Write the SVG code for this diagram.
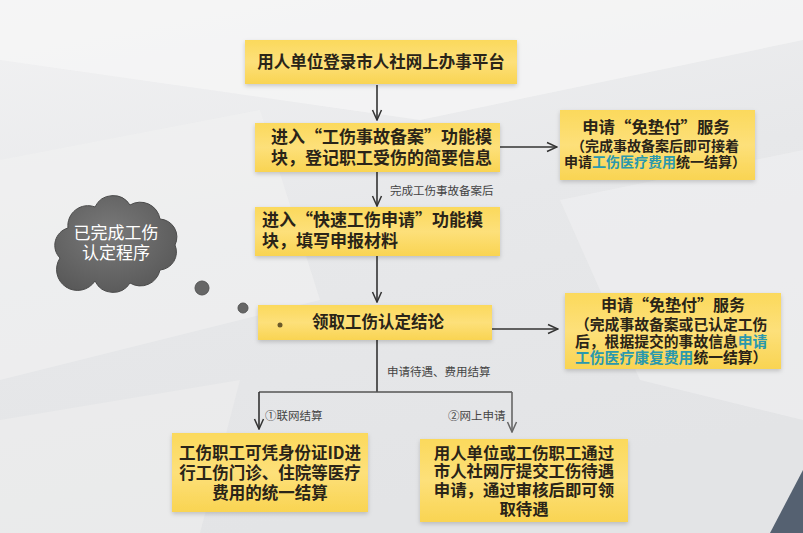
<svg xmlns="http://www.w3.org/2000/svg" width="803" height="533" viewBox="0 0 803 533">
  <defs>
    <linearGradient id="bg" x1="0" y1="0" x2="0.3" y2="1">
      <stop offset="0" stop-color="#f2f2f3"/>
      <stop offset="0.5" stop-color="#e7e8ea"/>
      <stop offset="1" stop-color="#e3e4e6"/>
    </linearGradient>
    <linearGradient id="yel" x1="0" y1="0" x2="0" y2="1">
      <stop offset="0" stop-color="#fbd95c"/>
      <stop offset="0.5" stop-color="#fde07a"/>
      <stop offset="1" stop-color="#f9d452"/>
    </linearGradient>
    <radialGradient id="cloudg" cx="0.45" cy="0.4" r="0.7">
      <stop offset="0" stop-color="#7a7a7a"/>
      <stop offset="1" stop-color="#565656"/>
    </radialGradient>
    <filter id="sh" x="-10%" y="-20%" width="120%" height="150%">
      <feDropShadow dx="0" dy="2" stdDeviation="2" flood-color="#000" flood-opacity="0.18"/>
    </filter>
    <marker id="ah" viewBox="0 0 12 12" refX="11" refY="6" markerWidth="12" markerHeight="12" markerUnits="userSpaceOnUse" orient="auto">
      <polyline points="1,1.5 11,6 1,10.5" fill="none" stroke="#333" stroke-width="1.5"/>
    </marker>
    <marker id="ah2" viewBox="0 0 12 12" refX="11" refY="6" markerWidth="12" markerHeight="12" markerUnits="userSpaceOnUse" orient="auto">
      <polyline points="1,1.5 11,6 1,10.5" fill="none" stroke="#666" stroke-width="1.5"/>
    </marker>
  </defs>
  <style>
    .box { fill: url(#yel); filter: url(#sh); }
    .t { font-family: "Noto Sans CJK SC", "Noto Sans", sans-serif; font-weight: bold; fill: #2a2418; }
    .m { text-anchor: middle; }
    .lbl { font-family: "Noto Sans CJK SC", "Noto Sans", sans-serif; font-size: 11.5px; fill: #444; }
    .teal { fill: #2a98ad; }
    .ln { fill: none; stroke: #333; stroke-width: 1.6; }
  </style>

  <!-- background -->
  <rect x="0" y="0" width="803" height="533" fill="url(#bg)"/>
  <polygon points="0,0 803,0 803,40 420,120 0,60" fill="#f6f6f7" opacity="0.7"/>
  <polygon points="0,160 260,110 320,300 0,380" fill="#f1f1f2" opacity="0.6"/>
  <polygon points="560,200 803,150 803,420 640,380" fill="#f0f0f1" opacity="0.6"/>
  <polygon points="0,420 240,380 200,533 0,533" fill="#eeeeef" opacity="0.6"/>
  <polygon points="770,533 803,470 803,533" fill="#3c4a5c" opacity="0.85"/>

  <!-- connectors -->
  <g id="connectors">
    <line class="ln" x1="377" y1="85" x2="377" y2="120" marker-end="url(#ah)"/>
    <line class="ln" x1="500" y1="147" x2="557" y2="147" marker-end="url(#ah)"/>
    <line class="ln" x1="377" y1="172" x2="377" y2="206" marker-end="url(#ah)"/>
    <line class="ln" x1="377" y1="256" x2="377" y2="302" marker-end="url(#ah)"/>
    <line class="ln" x1="492" y1="329" x2="558" y2="329" marker-end="url(#ah)"/>
    <polyline class="ln" points="377,340 377,392"/>
    <polyline class="ln" points="259,392 512,392" style="stroke:#555"/>
    <line class="ln" x1="259" y1="392" x2="259" y2="429" marker-end="url(#ah)"/>
    <line class="ln" x1="512" y1="392" x2="512" y2="432" style="stroke:#666" marker-end="url(#ah2)"/>
    <text class="lbl" x="390" y="195">完成工伤事故备案后</text>
    <text class="lbl" x="387" y="376">申请待遇、费用结算</text>
    <text class="lbl" x="265" y="420">①联网结算</text>
    <text class="lbl" x="448" y="420">②网上申请</text>
  </g>

  <g id="n1">
    <rect class="box" x="245" y="40" width="272" height="44"/>
    <text class="t m" x="381" y="68" font-size="16.5">用人单位登录市人社网上办事平台</text>
  </g>

  <g id="n2">
    <rect class="box" x="255" y="123" width="245" height="49"/>
    <text class="t" x="271" y="143" font-size="17">进入“工伤事故备案”功能模</text>
    <text class="t" x="271" y="164" font-size="17">块，登记职工受伤的简要信息</text>
  </g>

  <g id="n3">
    <rect class="box" x="560" y="110" width="195" height="70"/>
    <text class="t m" x="656" y="133" font-size="16.4">申请“免垫付”服务</text>
    <text class="t m" x="655" y="151" font-size="14">（完成事故备案后即可接着</text>
    <text class="t m" x="655" y="167" font-size="14">申请<tspan class="teal">工伤医疗费用</tspan>统一结算）</text>
  </g>

  <g id="n4">
    <rect class="box" x="255" y="207" width="245" height="49"/>
    <text class="t" x="262" y="226" font-size="17">进入“快速工伤申请”功能模</text>
    <text class="t" x="262" y="247" font-size="17">块，填写申报材料</text>
  </g>

  <g id="n5">
    <path d="M60,258 A18,18 0 0 1 68,228 A20,20 0 0 1 95,207 A20,20 0 0 1 130,205 A20,20 0 0 1 160,219 A18,18 0 0 1 175,245 A18,18 0 0 1 160,270 A20,20 0 0 1 130,283 A20,20 0 0 1 95,281 A20,20 0 0 1 60,258 Z" fill="url(#cloudg)" stroke="#4a4a4a" stroke-width="1"/>
    <text x="116" y="239" font-size="17" fill="#ffffff" text-anchor="middle" font-family="Noto Sans CJK SC, sans-serif">已完成工伤</text>
    <text x="116" y="259" font-size="17" fill="#ffffff" text-anchor="middle" font-family="Noto Sans CJK SC, sans-serif">认定程序</text>
    <circle cx="202" cy="288" r="7" fill="#666" stroke="#555" stroke-width="1"/>
    <circle cx="243" cy="308" r="5" fill="#666" stroke="#555" stroke-width="1"/>
  </g>

  <g id="n6">
    <rect class="box" x="258" y="305" width="234" height="35"/>
    <circle cx="280" cy="325" r="2.5" fill="#6b5a2a"/>
    <text class="t m" x="378" y="328" font-size="16.5">领取工伤认定结论</text>
  </g>

  <g id="n7">
    <rect class="box" x="565" y="293" width="216" height="76"/>
    <text class="t m" x="673" y="311" font-size="16">申请“免垫付”服务</text>
    <text class="t" x="575" y="330" font-size="14.8">（完成事故备案或已认定工伤</text>
    <text class="t" x="575" y="347" font-size="14.8">后，根据提交的事故信息<tspan class="teal">申请</tspan></text>
    <text class="t" x="575" y="363" font-size="14.8"><tspan class="teal">工伤医疗康复费用</tspan>统一结算）</text>
  </g>

  <g id="n8">
    <rect class="box" x="172" y="433" width="196" height="79"/>
    <text class="t m" x="270" y="459" font-size="16.5">工伤职工可凭身份证ID进</text>
    <text class="t m" x="270" y="479" font-size="16.5">行工伤门诊、住院等医疗</text>
    <text class="t m" x="270" y="499" font-size="16.5">费用的统一结算</text>
  </g>

  <g id="n9">
    <rect class="box" x="420" y="439" width="208" height="83"/>
    <text class="t m" x="524" y="459" font-size="16.4">用人单位或工伤职工通过</text>
    <text class="t m" x="524" y="477" font-size="16.4">市人社网厅提交工伤待遇</text>
    <text class="t m" x="524" y="496" font-size="16.4">申请，通过审核后即可领</text>
    <text class="t m" x="524" y="515" font-size="16.4">取待遇</text>
  </g>
</svg>
